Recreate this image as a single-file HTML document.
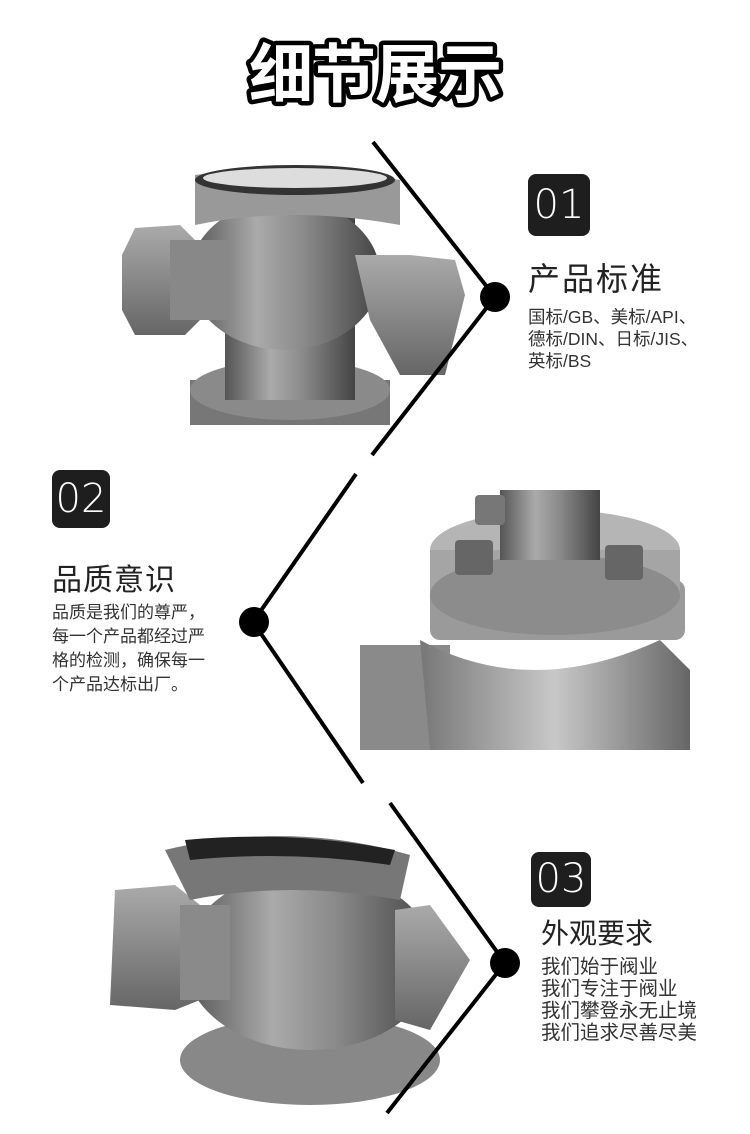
<!DOCTYPE html>
<html><head><meta charset="utf-8"><style>
html,body{margin:0;padding:0;background:#fff}
body{width:750px;height:1134px;overflow:hidden;position:relative;font-family:"Liberation Sans","Noto Sans CJK SC",sans-serif}
.t{position:absolute;color:#222;white-space:nowrap}
.box{position:absolute;background:#1e1e1e;border-radius:8px;color:#fff;font-size:40px;font-weight:300;text-align:center;font-family:"DejaVu Sans","Liberation Sans",sans-serif}
</style></head><body>
<svg width="750" height="1134" style="position:absolute;left:0;top:0">
<defs>
<linearGradient id="g1" x1="0" x2="1"><stop offset="0" stop-color="#555"/><stop offset=".35" stop-color="#aaa"/><stop offset=".6" stop-color="#8a8a8a"/><stop offset="1" stop-color="#444"/></linearGradient>
<linearGradient id="g2" x1="0" x2="1"><stop offset="0" stop-color="#777"/><stop offset=".5" stop-color="#c8c8c8"/><stop offset="1" stop-color="#666"/></linearGradient>
<linearGradient id="g3" x1="0" x2="0" y1="0" y2="1"><stop offset="0" stop-color="#aaa"/><stop offset="1" stop-color="#666"/></linearGradient>
</defs>
<text x="375" y="97" text-anchor="middle" font-size="64" font-weight="bold" font-family="Noto Sans CJK SC,sans-serif" fill="#fff" stroke="#000" stroke-width="9" stroke-linejoin="round" letter-spacing="-1">细节展示</text>
<text x="375" y="97" text-anchor="middle" font-size="64" font-weight="bold" font-family="Noto Sans CJK SC,sans-serif" fill="#fff" letter-spacing="-1">细节展示</text>

<rect x="190" y="380" width="200" height="45" fill="#777"/>
<ellipse cx="290" cy="390" rx="100" ry="30" fill="#8a8a8a"/>
<path d="M225 205 H355 V400 H225 Z" fill="url(#g1)"/>
<ellipse cx="285" cy="275" rx="95" ry="75" fill="url(#g1)"/>
<path d="M135 228 L180 225 L200 245 L200 320 L185 335 L135 335 L122 310 L122 255 Z" fill="url(#g3)"/>
<path d="M170 240 H230 V320 H170 Z" fill="#888"/>
<path d="M355 255 H410 L455 260 L465 295 L445 375 L400 375 L370 320 Z" fill="url(#g3)"/>
<path d="M195 175 Q290 160 400 180 L400 225 Q290 205 195 225 Z" fill="#999"/>
<ellipse cx="295" cy="180" rx="100" ry="15" fill="#333"/>
<ellipse cx="295" cy="178" rx="92" ry="10" fill="#ddd"/>

<path d="M360 645 H450 L450 750 H360 Z" fill="#8a8a8a"/>
<path d="M420 640 Q530 700 660 640 L690 670 L690 750 H430 Z" fill="url(#g2)"/>
<rect x="430" y="580" width="255" height="60" rx="10" fill="#9a9a9a"/>
<ellipse cx="555" cy="550" rx="125" ry="40" fill="#b5b5b5"/>
<rect x="430" y="550" width="250" height="45" fill="#a5a5a5"/>
<ellipse cx="555" cy="595" rx="125" ry="40" fill="#8c8c8c"/>
<rect x="500" y="490" width="100" height="70" fill="url(#g1)"/>
<rect x="455" y="540" width="38" height="35" rx="4" fill="#666"/>
<rect x="605" y="545" width="38" height="35" rx="4" fill="#666"/>
<rect x="475" y="495" width="30" height="30" rx="4" fill="#777"/>

<ellipse cx="310" cy="1060" rx="130" ry="45" fill="#888"/>
<ellipse cx="310" cy="960" rx="125" ry="90" fill="url(#g1)"/>
<path d="M115 890 L175 885 L200 905 L200 1000 L175 1010 L110 1005 Z" fill="url(#g3)"/>
<path d="M180 905 H230 V1000 H180 Z" fill="#8a8a8a"/>
<path d="M395 910 L430 905 L470 960 L430 1030 L395 1020 Z" fill="url(#g3)"/>
<path d="M165 850 Q290 820 410 855 L400 900 Q290 880 190 900 Z" fill="#777"/>
<path d="M185 840 Q290 830 395 850 L390 865 Q290 850 190 860 Z" fill="#222"/>

<g stroke="#000" stroke-width="4" fill="none">
<path d="M373 142 L495 297 L372 455"/>
<path d="M356 474 L253 622 L363 783"/>
<path d="M390 803 L505 963 L387 1113"/>
</g>
<circle cx="495" cy="297" r="15" fill="#000"/>
<circle cx="254" cy="622" r="15" fill="#000"/>
<circle cx="505" cy="963" r="15" fill="#000"/>
</svg>

<div class="box" style="left:528px;top:174px;width:62px;height:62px;line-height:62px">01</div>
<div class="t" style="left:528px;top:254px;font-size:32px;letter-spacing:2px">产品标准</div>
<div class="t" style="left:528px;top:306px;font-size:17.5px;line-height:22px;color:#333">国标/GB、美标/API、<br>德标/DIN、日标/JIS、<br>英标/BS</div>

<div class="box" style="left:52px;top:470px;width:58px;height:58px;line-height:58px">02</div>
<div class="t" style="left:52px;top:555px;font-size:30px;letter-spacing:1px">品质意识</div>
<div class="t" style="left:52px;top:601px;font-size:17px;line-height:24px;color:#333">品质是我们的尊严，<br>每一个产品都经过严<br>格的检测，确保每一<br>个产品达标出厂。</div>

<div class="box" style="left:531px;top:852px;width:60px;height:55px;line-height:55px">03</div>
<div class="t" style="left:541px;top:912px;font-size:28px">外观要求</div>
<div class="t" style="left:541px;top:956px;font-size:19.5px;line-height:22px;color:#333">我们始于阀业<br>我们专注于阀业<br>我们攀登永无止境<br>我们追求尽善尽美</div>
</body></html>
